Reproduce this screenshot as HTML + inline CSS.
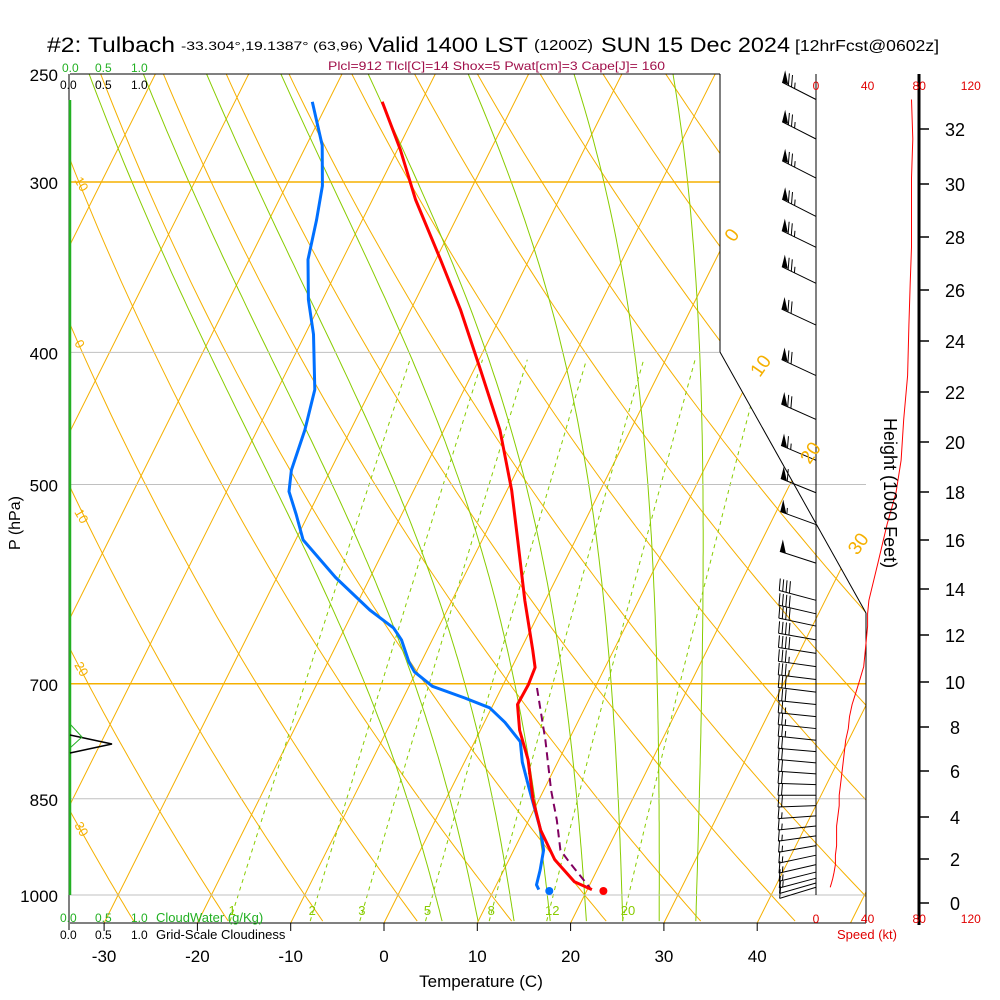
<!DOCTYPE html>
<html><head><meta charset="utf-8"><style>
html,body{margin:0;padding:0;background:#fff;width:1000px;height:1000px;overflow:hidden}
svg text{font-family:"Liberation Sans",sans-serif}
</style></head><body>
<svg id="chart" width="1000" height="1000" viewBox="0 0 1000 1000" xmlns="http://www.w3.org/2000/svg">
<defs><clipPath id="plotclip"><polygon points="70,74 720,74 720,352 866,613 866,923 70,923"/></clipPath></defs>
<rect width="1000" height="1000" fill="#fff"/>
<g id="title">
<text x="47" y="52" font-size="21" textLength="128" lengthAdjust="spacingAndGlyphs">#2: Tulbach</text>
<text x="181" y="50" font-size="12" textLength="182" lengthAdjust="spacingAndGlyphs">-33.304°,19.1387° (63,96)</text>
<text x="368" y="52" font-size="21" textLength="160" lengthAdjust="spacingAndGlyphs">Valid 1400 LST</text>
<text x="534" y="50" font-size="15" textLength="59" lengthAdjust="spacingAndGlyphs">(1200Z)</text>
<text x="601" y="52" font-size="21" textLength="189" lengthAdjust="spacingAndGlyphs">SUN 15 Dec 2024</text>
<text x="795" y="51" font-size="16" textLength="144" lengthAdjust="spacingAndGlyphs">[12hrFcst@0602z]</text>
</g>
<text x="328" y="70" font-size="12" fill="#a0104a" textLength="337" lengthAdjust="spacingAndGlyphs">Plcl=912 Tlcl[C]=14 Shox=5 Pwat[cm]=3 Cape[J]= 160</text>
<g id="grid" clip-path="url(#plotclip)"></g>
<g id="frame"></g>
<g id="profiles" clip-path="url(#plotclip)"></g>
<g id="speedg"></g>
<g id="barbs"></g>
<g id="labels"></g>
</svg>
<script>
// ---------- data ----------
const tempP = [262,284,309,342,372,412,456,505,549,608,661,681,701,725,757,796,852,896,942,978,991];
const tempT = [-44.2,-39.7,-35.4,-29.5,-24.7,-19.3,-14.0,-9.5,-6.2,-2.2,1.3,2.5,2.7,2.6,4.2,6.7,9.4,11.8,14.9,18.2,20.5];
const dewP = [262,282,302,320,342,366,388,426,456,488,506,526,549,585,618,637,650,675,686,703,717,729,747,772,799,838,896,927,959,983,991];
const dewT = [-51.7,-48.3,-46.1,-44.9,-43.7,-41.5,-39.1,-36.0,-34.9,-34.2,-33.3,-31.3,-29.2,-23.7,-18.3,-14.8,-13.3,-11.3,-10.2,-7.5,-3.4,-0.2,2.2,4.9,6.2,8.5,11.8,13.2,13.9,14.3,14.8];
const parcelP = [705,770,838,881,927,946,988];
const parcelT = [3.8,7.5,10.8,13.0,15.0,16.6,20.2];
const surfaceT = 21.8, surfaceTd = 16.0, surfaceP = 1000;
const barbP = [261,279,298,318,335,356,382,416,448,480,507,535,571,608,622,635,650,665,680,695,710,725,740,755,770,785,800,815,830,845,860,875,890,905,920,935,950,962,972,980,987];
const barbSpd = [74,75,74,74,74,73,72,71,68,66,62,55,48,41,40,40,39,38,37,34,31,28,26,25,23,22,21,20,19,18,18,17,16,16,16,15,15,14,13,12,11];
const barbDir = [297,297,297,297,296,296,295,295,294,293,292,290,288,285,283,282,280,279,278,277,277,276,276,276,276,275,275,274,272,270,268,266,264,262,260,258,257,256,255,254,253];
const isoTemps = [-110,-100,-90,-80,-70,-60,-50,-40,-30,-20,-10,0,10,20,30,40,50];
const thetaC = [-40,-30,-20,-10,0,10,20,30,40,50,60,70,80,90,100,110,120,130];
const moistT0 = [4,8,12,16,20,24,28,32];
const mixW = [1,2,3,5,8,12,20];
const pLevels = [300,400,500,700,850,1000];
const pLabels = ["300","400","500","700","850","1000"];
const tTicks = [-30,-20,-10,0,10,20,30,40];
const hTicks = [0,2,4,6,8,10,12,14,16,18,20,22,24,26,28,30,32];
const hTickY = [903,859,817,771,727,682,635,589,540,492,442,392,341,290,237,184,129];
const spdTicks = [0,40,80,120];
// ---------- axes ----------
const NS="http://www.w3.org/2000/svg";
const yP = p => 74 + 821*Math.log(p/250)/Math.log(4);
const xT = (T,y) => 384 + 9.33*T + 0.5*(923-y);
const xS = s => 816 + 1.29*s;
function mk(tag, attrs, parent){const e=document.createElementNS(NS,tag);for(const k in attrs)e.setAttribute(k,attrs[k]);parent.appendChild(e);return e;}
const grid=document.getElementById('grid'),frame=document.getElementById('frame'),prof=document.getElementById('profiles'),barbs=document.getElementById('barbs'),labels=document.getElementById('labels'),speedg=document.getElementById('speedg');
function pts(arr){return arr.map(a=>a[0].toFixed(1)+','+a[1].toFixed(1)).join(' ');}
isoTemps.forEach(T=>{
 const e=mk('line',{x1:xT(T,923),y1:923,x2:xT(T,74),y2:74,stroke:'#f5b000','stroke-width':1},grid);
 
 
});
thetaC.forEach(th=>{
 const a=[];for(let p=1045;p>=245;p-=10){const T=(th+273.15)*Math.pow(p/1000,0.2857)-273.15;const y=yP(p);a.push([xT(T,y),y]);}
 const e=mk('polyline',{points:pts(a),fill:'none',stroke:'#f5b000','stroke-width':1},grid);
 
 
});
function es(T){return 6.112*Math.exp(17.67*T/(T+243.5));}
function dTdp(T,p){const e=es(T-273.15);const rs=0.622*e/(p-e);return (287*T+2.5e6*rs)/(1004+2.5e6*2.5e6*rs*0.622/(287*T*T))/p;}
moistT0.forEach(t0=>{
 const a=[];
 let T=t0+273.15;for(let p=1000;p<=1045;p+=5){const y=yP(p);a.unshift([xT(T-273.15,y),y]);T+=dTdp(T,p)*5;}
 T=t0+273.15;
 for(let p=1000;p>=245;p-=5){if(p<1000){const y=yP(p);a.push([xT(T-273.15,y),y]);}T-=dTdp(T,p)*5;}
 const e=mk('polyline',{points:pts(a),fill:'none',stroke:'#88cc00','stroke-width':1},grid);
 
 
});
mixW.forEach(w=>{
 const a=[];for(let p=1045;p>=400;p-=10){const e=w*p/(622+w);const l=Math.log(e/6.112);const Td=243.5*l/(17.67-l);const y=yP(p);a.push([xT(Td,y),y]);}
 const e=mk('polyline',{points:pts(a),fill:'none',stroke:'#88cc00','stroke-width':1,'stroke-dasharray':'4,4'},grid);
 
 
 const ee=w*1040/(622+w);const l=Math.log(ee/6.112);const Td=243.5*l/(17.67-l);
 const t=mk('text',{x:xT(Td,915)-4,y:915,'font-size':13,fill:'#88cc00'},labels);t.textContent=w;
 
 
});
pLevels.forEach((p,i)=>{
 const y=yP(p);const orange=(p==300||p==700);const x2=(p<=400)?720:866;
 const e=mk('line',{x1:70,y1:y,x2:x2,y2:y,stroke:orange?'#f5b000':'#c0c0c0','stroke-width':orange?1.5:1},frame);
 
 
 const t=mk('text',{x:58,y:y+7,'font-size':17,'text-anchor':'end'},labels);t.textContent=pLabels[i];
 
 
});
{const t=mk('text',{x:58,y:81,'font-size':17,'text-anchor':'end'},labels);t.textContent='250';
 
 }
[0,10,20,30].forEach(T=>{
 let y= T==0?243:(T==10?378:(T==20?465:556));
 const t=mk('text',{x:xT(T,y)+10,y:y,'font-size':19,fill:'#f5b000',transform:`rotate(-55 ${xT(T,y)+10} ${y})`},labels);t.textContent=T;
 
 
});
[[10,180],[0,343],[-10,512],[-20,665],[-30,825]].forEach(([th,y])=>{
 const t=mk('text',{x:74,y:y,'font-size':13,fill:'#f5b000',transform:`rotate(60 74 ${y})`},labels);t.textContent=Math.abs(th);
 
 
});
[[70,74,720,74],[720,74,720,352],[720,352,866,613],[866,613,866,923],[70,923,866,923],[69,74,69,930],[816,74,816,895]].forEach(c=>{
 const e=mk('line',{x1:c[0],y1:c[1],x2:c[2],y2:c[3],stroke:'#000','stroke-width':1},frame);
 
 
});
{const e=mk('line',{x1:919,y1:74,x2:919,y2:925,stroke:'#000','stroke-width':3},frame);
 
 }
{const e=mk('line',{x1:70,y1:100,x2:70,y2:895,stroke:'#22b022','stroke-width':2.5},frame);
 
 }
tTicks.forEach(T=>{
 const x=384+9.33*T;
 const e=mk('line',{x1:x,y1:923,x2:x,y2:931,stroke:'#000'},frame);
 
 
 const t=mk('text',{x:x,y:962,'font-size':17,'text-anchor':'middle'},labels);t.textContent=T;
 
 
});
hTicks.forEach((h,i)=>{
 const e=mk('line',{x1:919,y1:hTickY[i],x2:929,y2:hTickY[i],stroke:'#000','stroke-width':1.5},frame);
 
 
 const t=mk('text',{x:955,y:hTickY[i]+7,'font-size':18,'text-anchor':'middle'},labels);t.textContent=h;
 
 
});
spdTicks.forEach(s=>{
 [90,923].forEach(y=>{
  const t=mk('text',{x:xS(s),y:y,'font-size':12,fill:'#e00000','text-anchor':'middle'},labels);t.textContent=s;
  
  
 });
});
function prof_line(P,T,color,w,dash,name){
 const a=P.map((p,i)=>{const y=yP(p);return [xT(T[i],y),y];});
 const e=mk('polyline',{points:pts(a),fill:'none',stroke:color,'stroke-width':w,'stroke-linejoin':'round'},prof);
 if(dash)e.setAttribute('stroke-dasharray',dash);
 
 
}
prof_line(parcelP,parcelT,'#800060',2,'8,5','parcel-trace');
prof_line(dewP,dewT,'#0070ff',3,null,'dewpoint-line');
prof_line(tempP,tempT,'#ff0000',3,null,'temperature-line');
{const y=yP(surfaceP)-4;
 const c1=mk('circle',{cx:xT(surfaceT,y),cy:y,r:4,fill:'#ff0000'},labels);
 
 
 const c2=mk('circle',{cx:xT(surfaceTd,y),cy:y,r:4,fill:'#0070ff'},labels);
 
 }
{const a=barbP.map((p,i)=>[xS(barbSpd[i]),yP(p)]);
 const e=mk('polyline',{points:pts(a),fill:'none',stroke:'#ff0000','stroke-width':1},speedg);
 
 }
barbP.forEach((p,i)=>{
 const y0=yP(p),x0=816,d=barbDir[i]*Math.PI/180;
 const ux=Math.sin(d),uy=-Math.cos(d);
 const L=38;const g=mk('g',{},barbs);
 
 
 const tx=x0+ux*L,ty=y0+uy*L;
 mk('line',{x1:x0,y1:y0,x2:tx,y2:ty,stroke:'#000','stroke-width':1},g);
 let s=Math.round(barbSpd[i]/5)*5,pos=0;
 while(s>=50){const bx=tx-ux*pos,by=ty-uy*pos;
  mk('polygon',{points:`${bx},${by} ${bx+3},${by-12} ${bx+6},${by+2}`,fill:'#000'},g);pos+=7;s-=50;}
 while(s>=10){const bx=tx-ux*pos,by=ty-uy*pos;
  mk('line',{x1:bx,y1:by,x2:bx+1,y2:by-12,stroke:'#000','stroke-width':1},g);pos+=3.5;s-=10;}
 if(s>=5){const bx=tx-ux*pos,by=ty-uy*pos;
  mk('line',{x1:bx,y1:by,x2:bx+0.5,y2:by-6,stroke:'#000','stroke-width':1},g);}
});
{const e=mk('polyline',{points:'70,735 112,744 70,753',fill:'none',stroke:'#000','stroke-width':1.5},labels);
 
 
 const e2=mk('polyline',{points:'70,724 82,737 70,748',fill:'none',stroke:'#22b022','stroke-width':1},labels);
 
 }
</script>
<svg width="1000" height="1000" style="position:absolute;left:0;top:0">
<text x="62" y="72" font-size="12" fill="#22b022" font-family="Liberation Sans">0.0</text>
<text x="95" y="72" font-size="12" fill="#22b022" font-family="Liberation Sans">0.5</text>
<text x="131" y="72" font-size="12" fill="#22b022" font-family="Liberation Sans">1.0</text>
<text x="60" y="89" font-size="12" fill="#000" font-family="Liberation Sans">0.0</text>
<text x="95" y="89" font-size="12" fill="#000" font-family="Liberation Sans">0.5</text>
<text x="131" y="89" font-size="12" fill="#000" font-family="Liberation Sans">1.0</text>
<text x="60" y="922" font-size="12" fill="#22b022" font-family="Liberation Sans">0.0</text>
<text x="95" y="922" font-size="12" fill="#22b022" font-family="Liberation Sans">0.5</text>
<text x="131" y="922" font-size="12" fill="#22b022" font-family="Liberation Sans">1.0</text>
<text x="156" y="922" font-size="13" fill="#22b022" font-family="Liberation Sans">CloudWater (g/Kg)</text>
<text x="60" y="939" font-size="12" fill="#000" font-family="Liberation Sans">0.0</text>
<text x="95" y="939" font-size="12" fill="#000" font-family="Liberation Sans">0.5</text>
<text x="131" y="939" font-size="12" fill="#000" font-family="Liberation Sans">1.0</text>
<text x="156" y="939" font-size="13" fill="#000" font-family="Liberation Sans">Grid-Scale Cloudiness</text>
<text x="837" y="939" font-size="13" fill="#e00000" font-family="Liberation Sans">Speed (kt)</text>
<text x="481" y="987" font-size="17" text-anchor="middle" font-family="Liberation Sans">Temperature (C)</text>
<text x="0" y="0" font-size="16" transform="translate(20,550) rotate(-90)" font-family="Liberation Sans">P (hPa)</text>
<text x="0" y="0" font-size="18" transform="translate(884,418) rotate(90)" font-family="Liberation Sans">Height (1000 Feet)</text>
</svg>
</body></html>
